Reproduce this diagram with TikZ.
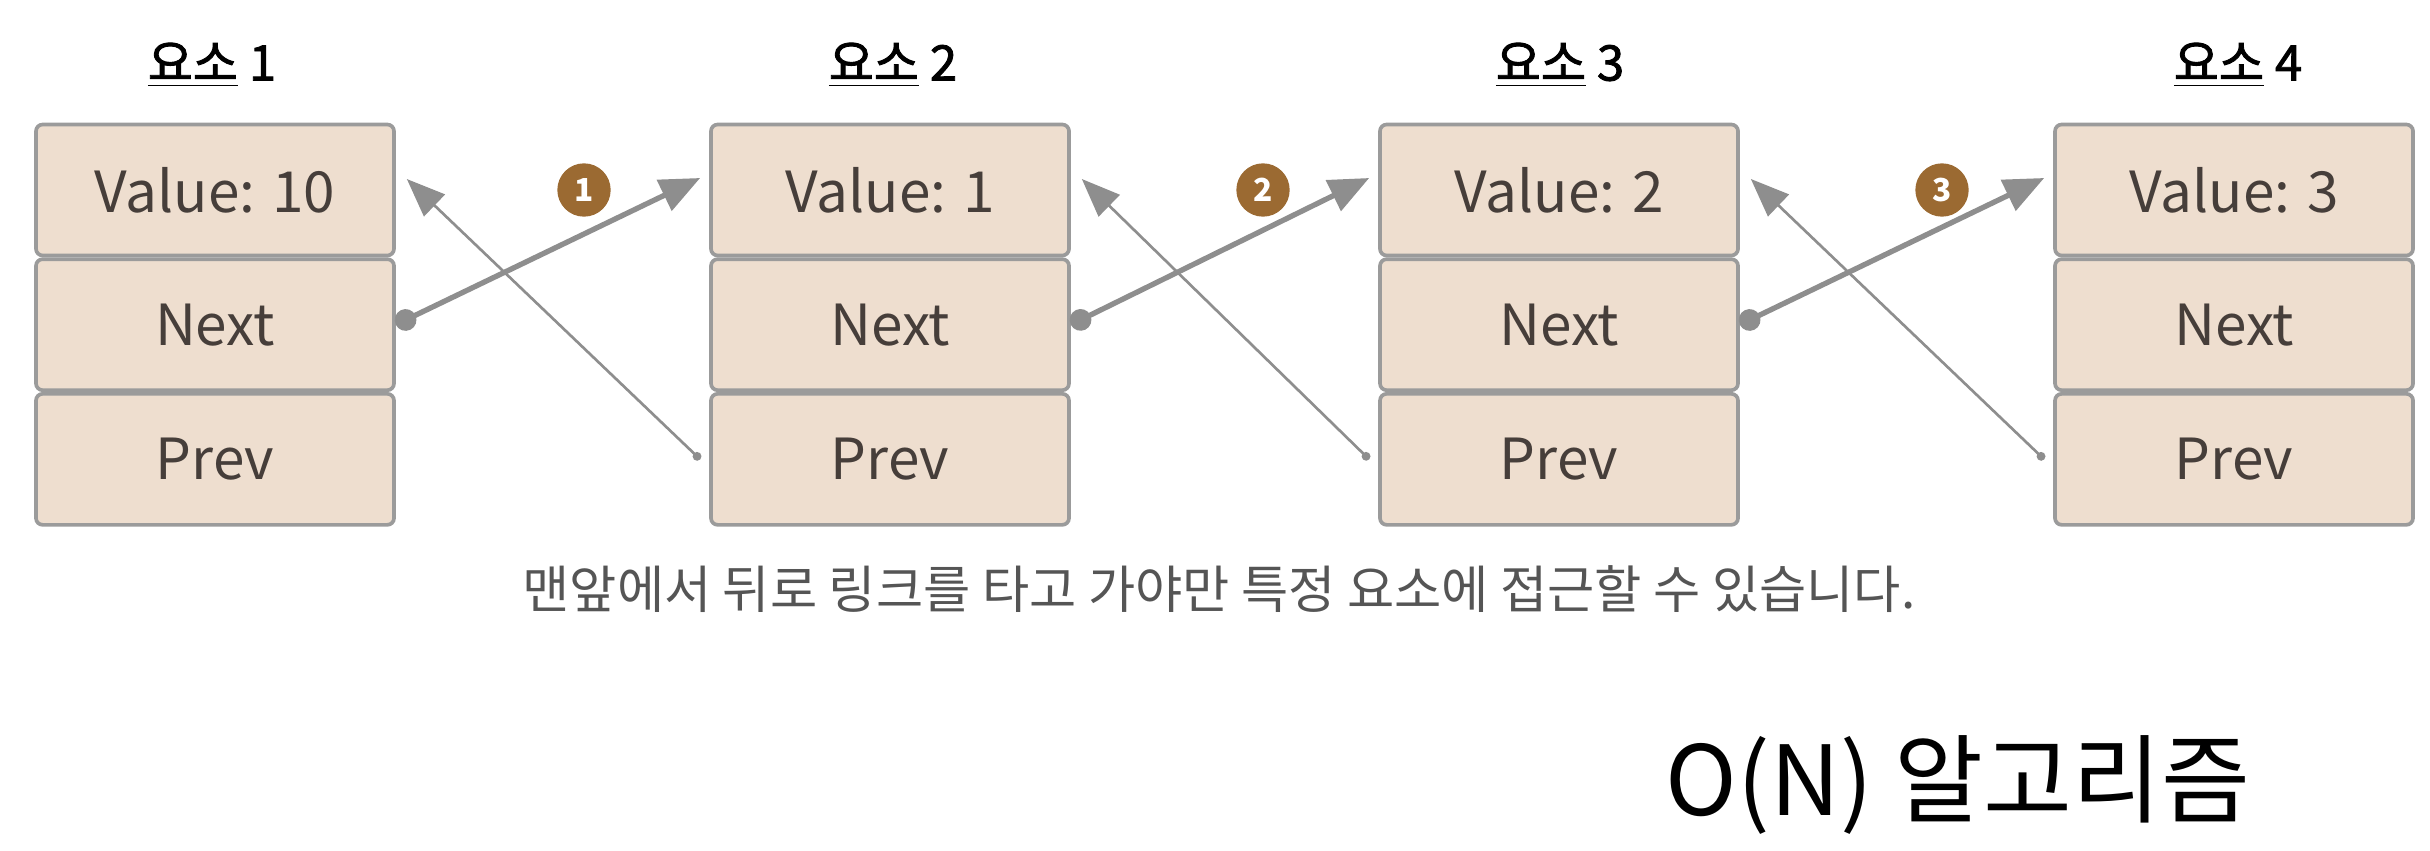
\documentclass[tikz,border=0pt]{standalone}
\usepackage{fontspec}
\setmainfont{Noto Sans CJK KR}
\newfontfamily\titlefont[FakeBold=1.8]{Noto Sans CJK KR}
\usetikzlibrary{positioning,calc,arrows.meta}
\definecolor{cellfill}{RGB}{238,222,207}
\definecolor{cellline}{RGB}{155,155,155}
\definecolor{celltext}{RGB}{70,62,58}
\definecolor{linkgray}{RGB}{142,142,142}
\definecolor{badgebrown}{RGB}{155,106,50}
\definecolor{captiongray}{RGB}{85,85,85}
\begin{document}
\begin{tikzpicture}[x=0.3pt,y=-0.3pt,
    cell/.style={shape=rectangle,rounded corners=2pt,draw=cellline,line width=1.1pt,fill=cellfill,
      minimum width=107.4pt,minimum height=39.3pt,text=celltext,font=\fontsize{17}{20}\selectfont},
    title/.style={font=\titlefont\fontsize{14.7}{17}\selectfont},
    badge/.style={shape=circle,fill=badgebrown,text=white,minimum size=16pt,inner sep=0pt,
      font=\bfseries\fontsize{9.5}{10}\selectfont},
    nextlink/.style={draw=linkgray,line width=1.6pt,{Circle[length=6.5pt]}-{Triangle[length=12pt,width=10pt]}},
    prevlink/.style={draw=linkgray,line width=0.8pt,{Circle[length=2.6pt]}-{Triangle[length=11.5pt,width=9pt]}}]
      \useasboundingbox (0,0) rectangle (2430,850);

      \node[title] (T1) at (212,65) {\underline{요소}~1};
      \node[title] (T2) at (893,65) {\underline{요소}~2};
      \node[title] (T3) at (1560,65) {\underline{요소}~3};
      \node[title] (T4) at (2238,65) {\underline{요소}~4};

      \node[cell] (V1) at (215,190) {Value: 10};
      \node[cell,below=0pt of V1] (N1) {Next};
      \node[cell,below=0pt of N1] (P1) {Prev};

      \node[cell] (V2) at (890,190) {Value: 1};
      \node[cell,below=0pt of V2] (N2) {Next};
      \node[cell,below=0pt of N2] (P2) {Prev};

      \node[cell] (V3) at (1559,190) {Value: 2};
      \node[cell,below=0pt of V3] (N3) {Next};
      \node[cell,below=0pt of N3] (P3) {Prev};

      \node[cell] (V4) at (2234,190) {Value: 3};
      \node[cell,below=0pt of V4] (N4) {Next};
      \node[cell,below=0pt of N4] (P4) {Prev};

      \node[badge] (B1) at (584,190) {1};
      \node[badge] (B2) at (1263,190) {2};
      \node[badge] (B3) at (1942,190) {3};

      \draw[prevlink] ($(P2.west)+(-9,0)$) -- ($(V1.east)+(11,-11)$);
      \draw[prevlink] ($(P3.west)+(-9,0)$) -- ($(V2.east)+(11,-11)$);
      \draw[prevlink] ($(P4.west)+(-9,0)$) -- ($(V3.east)+(11,-11)$);

      \draw[nextlink] (N1.east) -- ($(V2.west)+(-9,-12)$);
      \draw[nextlink] (N2.east) -- ($(V3.west)+(-9,-12)$);
      \draw[nextlink] (N3.east) -- ($(V4.west)+(-9,-12)$);

      \node[text=captiongray,font=\fontsize{15.4}{18}\selectfont] (cap) at (1219,589)
        {맨앞에서 뒤로 링크를 타고 가야만 특정 요소에 접근할 수 있습니다.};
      \node[font=\fontsize{29}{34}\selectfont] (algo) at (1958,785) {O(N) 알고리즘};
\end{tikzpicture}
\end{document}
